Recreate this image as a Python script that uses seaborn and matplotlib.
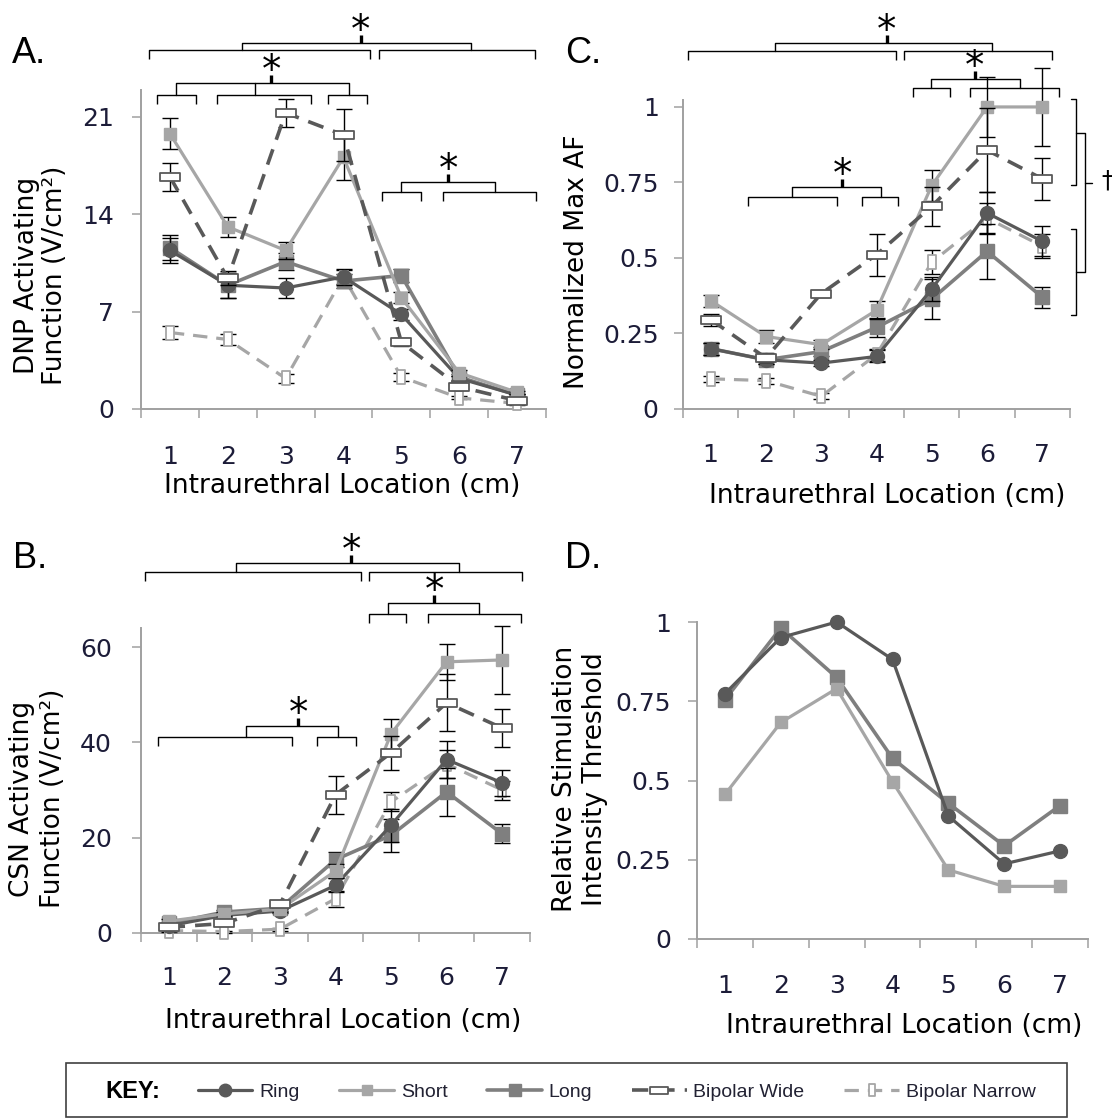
import numpy as np
import pandas as pd
import matplotlib
matplotlib.use("Agg")
import matplotlib.pyplot as plt
import matplotlib.transforms as mtransforms
import matplotlib.path as mpath
from matplotlib.lines import Line2D
from matplotlib.patches import Rectangle
import seaborn as sns

# ---------------- data ----------------
locations = [1, 2, 3, 4, 5, 6, 7]
series = ["Ring", "Short", "Long", "Bipolar Wide", "Bipolar Narrow"]

# Panel A: DNP activating function (V/cm^2)
ring_A = [11.4, 8.9, 8.7, 9.5, 6.8, 2.2, 1.0]
short_A = [19.8, 13.1, 11.4, 18.1, 8.0, 2.6, 1.2]
long_A = [11.6, 8.9, 10.6, 9.2, 9.6, 2.3, 1.0]
wide_A = [16.7, 9.4, 21.3, 19.7, 4.8, 1.6, 0.6]
narrow_A = [5.5, 5.0, 2.2, 9.5, 2.3, 0.8, 0.4]
ring_A_err = [0.9, 0.9, 0.7, 0.6, 0.4, 0.2, 0.1]
short_A_err = [1.1, 0.7, 0.6, 1.6, 0.4, 0.2, 0.1]
long_A_err = [0.9, 0.9, 0.6, 0.5, 0.5, 0.2, 0.1]
wide_A_err = [1.0, 0.5, 1.0, 1.9, 0.3, 0.2, 0.1]
narrow_A_err = [0.5, 0.4, 0.3, 0.5, 0.3, 0.1, 0.1]

# Panel B: CSN activating function (V/cm^2)
ring_B = [1.5, 3.7, 4.6, 10.0, 22.6, 36.4, 31.5]
short_B = [2.5, 4.0, 5.0, 13.0, 41.8, 56.9, 57.3]
long_B = [2.0, 4.4, 5.2, 15.4, 20.5, 29.6, 20.8]
wide_B = [1.2, 2.0, 6.0, 29.0, 37.8, 48.3, 43.0]
narrow_B = [0.5, 0.3, 0.8, 7.2, 27.5, 35.5, 30.0]
ring_B_err = [0.3, 0.4, 0.5, 1.5, 3.5, 3.8, 2.8]
short_B_err = [0.4, 0.4, 0.5, 1.5, 3.2, 3.8, 7.1]
long_B_err = [0.3, 0.4, 0.5, 1.5, 3.5, 5.0, 2.0]
wide_B_err = [0.3, 0.3, 0.6, 4.0, 3.6, 6.0, 4.0]
narrow_B_err = [0.2, 0.2, 0.3, 1.7, 2.0, 3.0, 2.0]

# Panel C: normalized max AF
ring_C = [0.20, 0.163, 0.152, 0.174, 0.397, 0.649, 0.555]
short_C = [0.359, 0.24, 0.213, 0.327, 0.74, 1.0, 1.0]
long_C = [0.20, 0.163, 0.19, 0.27, 0.364, 0.522, 0.37]
wide_C = [0.296, 0.169, 0.382, 0.511, 0.671, 0.857, 0.762]
narrow_C = [0.10, 0.094, 0.042, 0.18, 0.486, 0.632, 0.539]
ring_C_err = [0.02, 0.015, 0.01, 0.02, 0.04, 0.07, 0.05]
short_C_err = [0.02, 0.02, 0.015, 0.03, 0.05, 0.10, 0.13]
long_C_err = [0.02, 0.015, 0.015, 0.03, 0.065, 0.09, 0.035]
wide_C_err = [0.02, 0.015, 0.01, 0.07, 0.065, 0.14, 0.07]
narrow_C_err = [0.01, 0.01, 0.01, 0.02, 0.04, 0.05, 0.04]

# Panel D: relative stimulation intensity threshold
ring_D = [0.774, 0.951, 1.0, 0.882, 0.388, 0.237, 0.278]
short_D = [0.456, 0.683, 0.79, 0.496, 0.218, 0.166, 0.166]
long_D = [0.755, 0.981, 0.825, 0.57, 0.428, 0.294, 0.421]

# ---------------- style ----------------
sns.set_theme(style="white")
plt.rcParams["font.family"] = ["DejaVu Sans"]

W, H = 1112, 1119
fig = plt.figure(figsize=(W / 100, H / 100), dpi=100)
fig.patch.set_facecolor("white")

TICKC = "#1c1c38"
AXC = "#a0a0a0"
KEYFONT = ["Liberation Sans", "DejaVu Sans"]


def rect_path(w, h):
    return mpath.Path([(-w, -h), (w, -h), (w, h), (-w, h), (-w, -h)],
                      [mpath.Path.MOVETO, mpath.Path.LINETO, mpath.Path.LINETO,
                       mpath.Path.LINETO, mpath.Path.CLOSEPOLY])


WIDE = rect_path(1.0, 0.40)
NARROW = rect_path(0.55, 1.0)
DASH = (0, (4.5, 2.8))

STYLE = {
    "Ring": dict(color="#595959", lw=2.3, ls="-", marker="o", ms=10, mfc="#595959", mec="#595959", mew=1.0, z=5),
    "Short": dict(color="#a6a6a6", lw=2.3, ls="-", marker="s", ms=8, mfc="#a6a6a6", mec="#a6a6a6", mew=1.0, z=6),
    "Long": dict(color="#7f7f7f", lw=2.6, ls="-", marker="s", ms=9.5, mfc="#7f7f7f", mec="#7f7f7f", mew=1.0, z=4),
    "Bipolar Wide": dict(color="#595959", lw=2.6, ls=DASH, marker=WIDE, ms=14, mfc="white", mec="#595959", mew=1.3, z=7),
    "Bipolar Narrow": dict(color="#a6a6a6", lw=2.3, ls=DASH, marker=NARROW, ms=10, mfc="white", mec="#a6a6a6", mew=1.3, z=3),
}


def px_axes(l, t, r, b):
    return fig.add_axes([l / W, 1 - b / H, (r - l) / W, (b - t) / H])


def draw_series(ax, name, vals, errs=None):
    st = STYLE[name]
    df = pd.DataFrame({"loc": locations, "val": vals})
    if errs is not None:
        ax.errorbar(locations, vals, yerr=errs, fmt="none", ecolor="black", elinewidth=1.0,
                    capsize=6, capthick=1.0, zorder=st["z"] - 0.2, clip_on=False)
    sns.lineplot(data=df, x="loc", y="val", ax=ax, color=st["color"], linewidth=st["lw"],
                 linestyle=st["ls"], marker=st["marker"], markersize=st["ms"],
                 markerfacecolor=st["mfc"], markeredgecolor=st["mec"], markeredgewidth=st["mew"],
                 errorbar=None, legend=False, zorder=st["z"], clip_on=False)


def style_axis(ax, ymax, yticks, yticklabels, ypad, xpad, ylabel, ylab_xy, xlab_xy, lsp=1.15):
    ax.set_xlim(0.5, 7.5)
    ax.set_ylim(0, ymax)
    ax.set_xticks(np.arange(0.5, 8.0, 1.0))
    ax.set_xticklabels([])
    ax.set_xticks(locations, labels=[str(v) for v in locations], minor=True)
    ax.tick_params(axis="x", which="major", length=6.5, width=1.1, color=AXC, direction="out", bottom=True)
    ax.tick_params(axis="x", which="minor", length=0, pad=xpad, labelsize=18, labelcolor=TICKC, bottom=True)
    ax.set_yticks(yticks, labels=yticklabels)
    ax.tick_params(axis="y", length=6.5, width=1.1, color=AXC, direction="out", left=True,
                   pad=ypad, labelsize=18, labelcolor=TICKC)
    for s in ["top", "right"]:
        ax.spines[s].set_visible(False)
    for s in ["left", "bottom"]:
        ax.spines[s].set_color(AXC)
        ax.spines[s].set_linewidth(1.4)
    ax.set_facecolor("white")
    ax.set_ylabel(ylabel, fontsize=19, linespacing=lsp, color="black")
    ax.yaxis.set_label_coords(*ylab_xy)
    ax.set_xlabel("Intraurethral Location (cm)", fontsize=19, color="black")
    ax.xaxis.set_label_coords(*xlab_xy)


def T(ax):
    return mtransforms.blended_transform_factory(ax.transData, fig.transFigure)


def fy(ypx):
    return 1 - ypx / H


def group(ax, x0, x1, y, drop=9):
    ax.plot([x0, x0, x1, x1], [fy(y + drop), fy(y), fy(y), fy(y + drop)], color="black",
            lw=1.0, transform=T(ax), clip_on=False, solid_capstyle="butt")


def connector(ax, xa, xb, y, ylow, mids=()):
    ax.plot([xa, xa, xb, xb], [fy(ylow), fy(y), fy(y), fy(ylow)], color="black",
            lw=1.0, transform=T(ax), clip_on=False)
    for xm in mids:
        ax.plot([xm, xm], [fy(y), fy(ylow)], color="black", lw=1.0, transform=T(ax), clip_on=False)


def star(ax, xs, y):
    ax.plot([xs, xs], [fy(y), fy(y - 8)], color="black", lw=2.4, transform=T(ax),
            clip_on=False, solid_capstyle="butt")
    ax.text(xs, fy(y - 8 + 7), "*", ha="center", va="baseline", fontsize=28,
            transform=T(ax), color="black")


# ---------------- panels ----------------
axA = px_axes(141, 90, 546, 409)
axC = px_axes(683, 100, 1070, 409)
axB = px_axes(141, 628, 530, 933)
axD = px_axes(697, 622, 1088, 939)

for name, v, e in zip(series, [ring_A, short_A, long_A, wide_A, narrow_A],
                      [ring_A_err, short_A_err, long_A_err, wide_A_err, narrow_A_err]):
    draw_series(axA, name, v, e)
for name, v, e in zip(series, [ring_B, short_B, long_B, wide_B, narrow_B],
                      [ring_B_err, short_B_err, long_B_err, wide_B_err, narrow_B_err]):
    draw_series(axB, name, v, e)
for name, v, e in zip(series, [ring_C, short_C, long_C, wide_C, narrow_C],
                      [ring_C_err, short_C_err, long_C_err, wide_C_err, narrow_C_err]):
    draw_series(axC, name, v, e)
for name, v in zip(series[:3], [ring_D, short_D, long_D]):
    draw_series(axD, name, v)

style_axis(axA, 22.94, [0, 7, 14, 21], ["0", "7", "14", "21"], 13, 26,
           "DNP Activating\nFunction (V/cm²)", (-0.18, 0.42), (0.496, -0.20), lsp=1.1)
style_axis(axB, 64.0, [0, 20, 40, 60], ["0", "20", "40", "60"], 14.4, 24,
           "CSN Activating\nFunction (V/cm²)", (-0.193, 0.44), (0.519, -0.246), lsp=1.27)
style_axis(axC, 1.023, [0, 0.25, 0.5, 0.75, 1], ["0", "0.25", "0.5", "0.75", "1"], 11, 24.5,
           "Normalized Max AF", (-0.24, 0.476), (0.527, -0.239))
style_axis(axD, 1.0, [0, 0.25, 0.5, 0.75, 1], ["0", "0.25", "0.5", "0.75", "1"], 12, 25,
           "Relative Stimulation\nIntensity Threshold", (-0.228, 0.505), (0.529, -0.233), lsp=1.2)

# ---------------- significance brackets ----------------
# Panel A
group(axA, 0.64, 4.46, 50); group(axA, 4.61, 7.31, 50)
connector(axA, 2.24, 6.2, 43, 50); star(axA, 4.3, 43)
group(axA, 0.78, 1.45, 95); group(axA, 1.81, 3.44, 95); group(axA, 3.74, 4.41, 95)
connector(axA, 1.1, 4.09, 83, 95, mids=[2.47]); star(axA, 2.75, 83)
group(axA, 4.67, 5.34, 192); group(axA, 5.72, 7.33, 192)
connector(axA, 4.99, 6.62, 182, 192); star(axA, 5.81, 182)

# Panel B
group(axB, 0.57, 4.45, 572); group(axB, 4.6, 7.35, 572)
connector(axB, 2.21, 6.23, 563, 572); star(axB, 4.28, 563)
group(axB, 4.6, 5.27, 614); group(axB, 5.67, 7.33, 614)
connector(axB, 4.94, 6.59, 603, 614); star(axB, 5.78, 603)
group(axB, 0.8, 3.22, 737); group(axB, 3.67, 4.36, 737)
connector(axB, 2.39, 4.04, 726, 737); star(axB, 3.33, 726)

# Panel C
group(axC, 0.59, 4.35, 51); group(axC, 4.5, 7.17, 51)
connector(axC, 2.17, 6.09, 43, 51); star(axC, 4.19, 43)
group(axC, 4.66, 5.33, 88); group(axC, 5.69, 7.3, 88)
connector(axC, 4.98, 6.59, 79, 88); star(axC, 5.78, 79)
group(axC, 1.68, 3.28, 197); group(axC, 3.74, 4.39, 197)
connector(axC, 2.47, 4.08, 187, 197); star(axC, 3.38, 187)

# Panel C right-hand brackets and dagger
TC = T(axC)
for (y0, y1) in [(99, 185), (229, 315)]:
    axC.plot([7.52, 7.60, 7.60, 7.52], [fy(y0), fy(y0), fy(y1), fy(y1)], color="black", lw=1.0,
             transform=TC, clip_on=False)
axC.plot([7.60, 7.78, 7.78, 7.60], [fy(133), fy(133), fy(272), fy(272)], color="black", lw=1.0,
         transform=TC, clip_on=False)
axC.plot([7.78, 7.89], [fy(183), fy(183)], color="black", lw=1.0, transform=TC, clip_on=False)
axC.text(8.17, fy(181), "†", ha="center", va="center", fontsize=17, transform=TC, color="black")

# ---------------- panel letters ----------------
for lab, x, yb in [("A.", 12, 63), ("B.", 13, 568), ("C.", 565, 63), ("D.", 565, 568)]:
    fig.text(x / W, fy(yb), lab, fontsize=26, ha="left", va="baseline",
             family=["Liberation Sans", "DejaVu Sans"], color="black")

# ---------------- key ----------------
fig.add_artist(Rectangle((66 / W, fy(1117)), (1067 - 66) / W, (1117 - 1063) / H,
                         transform=fig.transFigure, fill=False, edgecolor="#404040", lw=1.2))
fig.text(105 / W, fy(1092), "KEY:", fontsize=17, fontweight="bold", ha="left", va="center",
         family=KEYFONT, color="black")
handles = []
for name in series:
    st = STYLE[name]
    handles.append(Line2D([], [], color=st["color"], lw=st["lw"], ls=st["ls"], marker=st["marker"],
                          ms=st["ms"] * 0.9, mfc=st["mfc"], mec=st["mec"], mew=st["mew"]))
leg = fig.legend(handles, series, ncol=5, loc="center left", bbox_to_anchor=(198 / W, fy(1092)),
                 frameon=False, handlelength=2.8, handletextpad=0.35, columnspacing=2.05,
                 borderaxespad=0, borderpad=0, numpoints=1,
                 prop={"family": KEYFONT, "size": 14})
for t in leg.get_texts():
    t.set_color("#222233")

fig.savefig("out.png", dpi=100, facecolor="white")
